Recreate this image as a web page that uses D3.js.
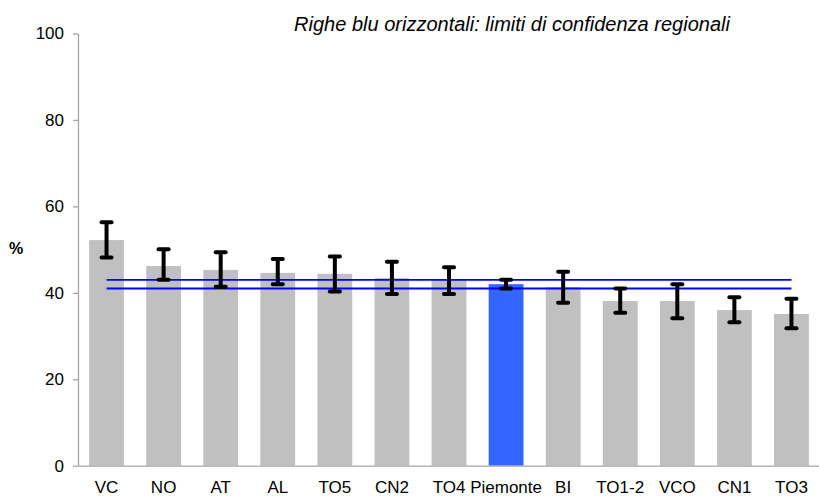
<!DOCTYPE html>
<html>
<head>
<meta charset="utf-8">
<script src="https://cdn.jsdelivr.net/npm/d3@7"></script>
<style>
  body { margin: 0; background: #fff; }
  text { font-family: "Liberation Sans", Arial, sans-serif; }
</style>
</head>
<body>
<div id="chart"></div>
<script>
// chart size
const svgWidth = 819;
const svgHeight = 499;

// data
const categories = ['VC', 'NO', 'AT', 'AL', 'TO5', 'CN2', 'TO4', 'Piemonte', 'BI', 'TO1-2', 'VCO', 'CN1', 'TO3'];
const values = [52.2, 46.2, 45.3, 44.6, 44.4, 43.4, 43.0, 42.0, 41.3, 38.1, 38.1, 36.0, 35.1];
const lower = [48.2, 43.0, 41.4, 42.0, 40.3, 39.7, 39.7, 41.0, 37.7, 35.4, 34.1, 33.2, 31.8];
const upper = [56.3, 50.1, 49.4, 47.8, 48.4, 47.2, 45.9, 43.0, 44.9, 41.0, 42.0, 39.0, 38.6];
const regionalLimits = [41.0, 43.0];
const yTicks = [0, 20, 40, 60, 80, 100];
const highlight = 'Piemonte';

var margins = { top: 33.5, bottom: 33.3, left: 78, right: -1 };
var height = svgHeight - margins.top - margins.bottom;
var width = svgWidth - margins.left - margins.right;

var svg = d3.select('#chart')
    .append('svg')
    .attr('width', svgWidth)
    .attr('height', svgHeight);

var chartGroup = svg.append('g')
    .attr('transform', `translate(${margins.left}, ${margins.top})`);

var rows = categories.map((c, i) => ({ name: c, value: values[i], lo: lower[i], hi: upper[i] }));

// scales
var xBandScale = d3.scaleBand()
    .domain(categories)
    .range([0, width])
    .paddingInner(0.39)
    .paddingOuter(0.195);

var yLinearScale = d3.scaleLinear()
    .domain([0, 100])
    .range([height, 0]);

// bars
chartGroup.selectAll('rect.bar')
    .data(rows)
    .enter()
    .append('rect')
    .attr('class', 'bar')
    .attr('x', d => xBandScale(d.name))
    .attr('y', d => yLinearScale(d.value))
    .attr('width', xBandScale.bandwidth())
    .attr('height', d => height - yLinearScale(d.value))
    .attr('fill', d => d.name === highlight ? '#3366ff' : '#c0c0c0');

// axes
var leftAxis = d3.axisLeft(yLinearScale)
    .tickValues(yTicks)
    .tickSize(5)
    .tickSizeOuter(0)
    .tickPadding(9);

var yAxisG = chartGroup.append('g').call(leftAxis);
yAxisG.select('.domain').attr('stroke', '#a6a6a6').attr('stroke-width', 1.3);
yAxisG.selectAll('.tick line').attr('stroke', '#a6a6a6').attr('stroke-width', 1.3);
yAxisG.selectAll('.tick text')
    .attr('fill', '#000')
    .style('font-size', '17px')
    .style('font-family', '"Liberation Sans", Arial, sans-serif');

var bottomAxis = d3.axisBottom(xBandScale)
    .tickSize(0)
    .tickSizeOuter(0)
    .tickPadding(15);

var xAxisG = chartGroup.append('g')
    .attr('transform', `translate(0, ${height})`)
    .call(bottomAxis);
xAxisG.select('.domain').attr('stroke', '#a6a6a6').attr('stroke-width', 1.3);
xAxisG.selectAll('.tick text')
    .attr('fill', '#000')
    .style('font-size', '17px')
    .style('font-family', '"Liberation Sans", Arial, sans-serif');

// regional confidence limits
var xFirst = xBandScale(categories[0]) + xBandScale.bandwidth() / 2;
var xLast = xBandScale(categories[categories.length - 1]) + xBandScale.bandwidth() / 2;
chartGroup.selectAll('line.limit')
    .data(regionalLimits)
    .enter()
    .append('line')
    .attr('class', 'limit')
    .attr('x1', xFirst)
    .attr('x2', xLast)
    .attr('y1', d => yLinearScale(d))
    .attr('y2', d => yLinearScale(d))
    .attr('stroke', '#0000ff')
    .attr('stroke-width', 1.8);

// error bars
var errGroup = chartGroup.selectAll('g.err')
    .data(rows)
    .enter()
    .append('g')
    .attr('class', 'err')
    .attr('transform', d => `translate(${xBandScale(d.name) + xBandScale.bandwidth() / 2}, 0)`);

errGroup.append('line')
    .attr('x1', 0).attr('x2', 0)
    .attr('y1', d => yLinearScale(d.lo))
    .attr('y2', d => yLinearScale(d.hi))
    .attr('stroke', '#000')
    .attr('stroke-width', 4);

['lo', 'hi'].forEach(function(k) {
    errGroup.append('line')
        .attr('x1', -5).attr('x2', 5)
        .attr('y1', d => yLinearScale(d[k]))
        .attr('y2', d => yLinearScale(d[k]))
        .attr('stroke', '#000')
        .attr('stroke-width', 4)
        .attr('stroke-linecap', 'round');
});

// labels
svg.append('text')
    .attr('x', 16)
    .attr('y', 254)
    .attr('text-anchor', 'middle')
    .style('font-size', '16px')
    .style('font-weight', 'bold')
    .text('%');

svg.append('text')
    .attr('x', 512)
    .attr('y', 31)
    .attr('text-anchor', 'middle')
    .style('font-size', '20px')
    .style('font-style', 'italic')
    .text('Righe blu orizzontali: limiti di confidenza regionali');
</script>
</body>
</html>
